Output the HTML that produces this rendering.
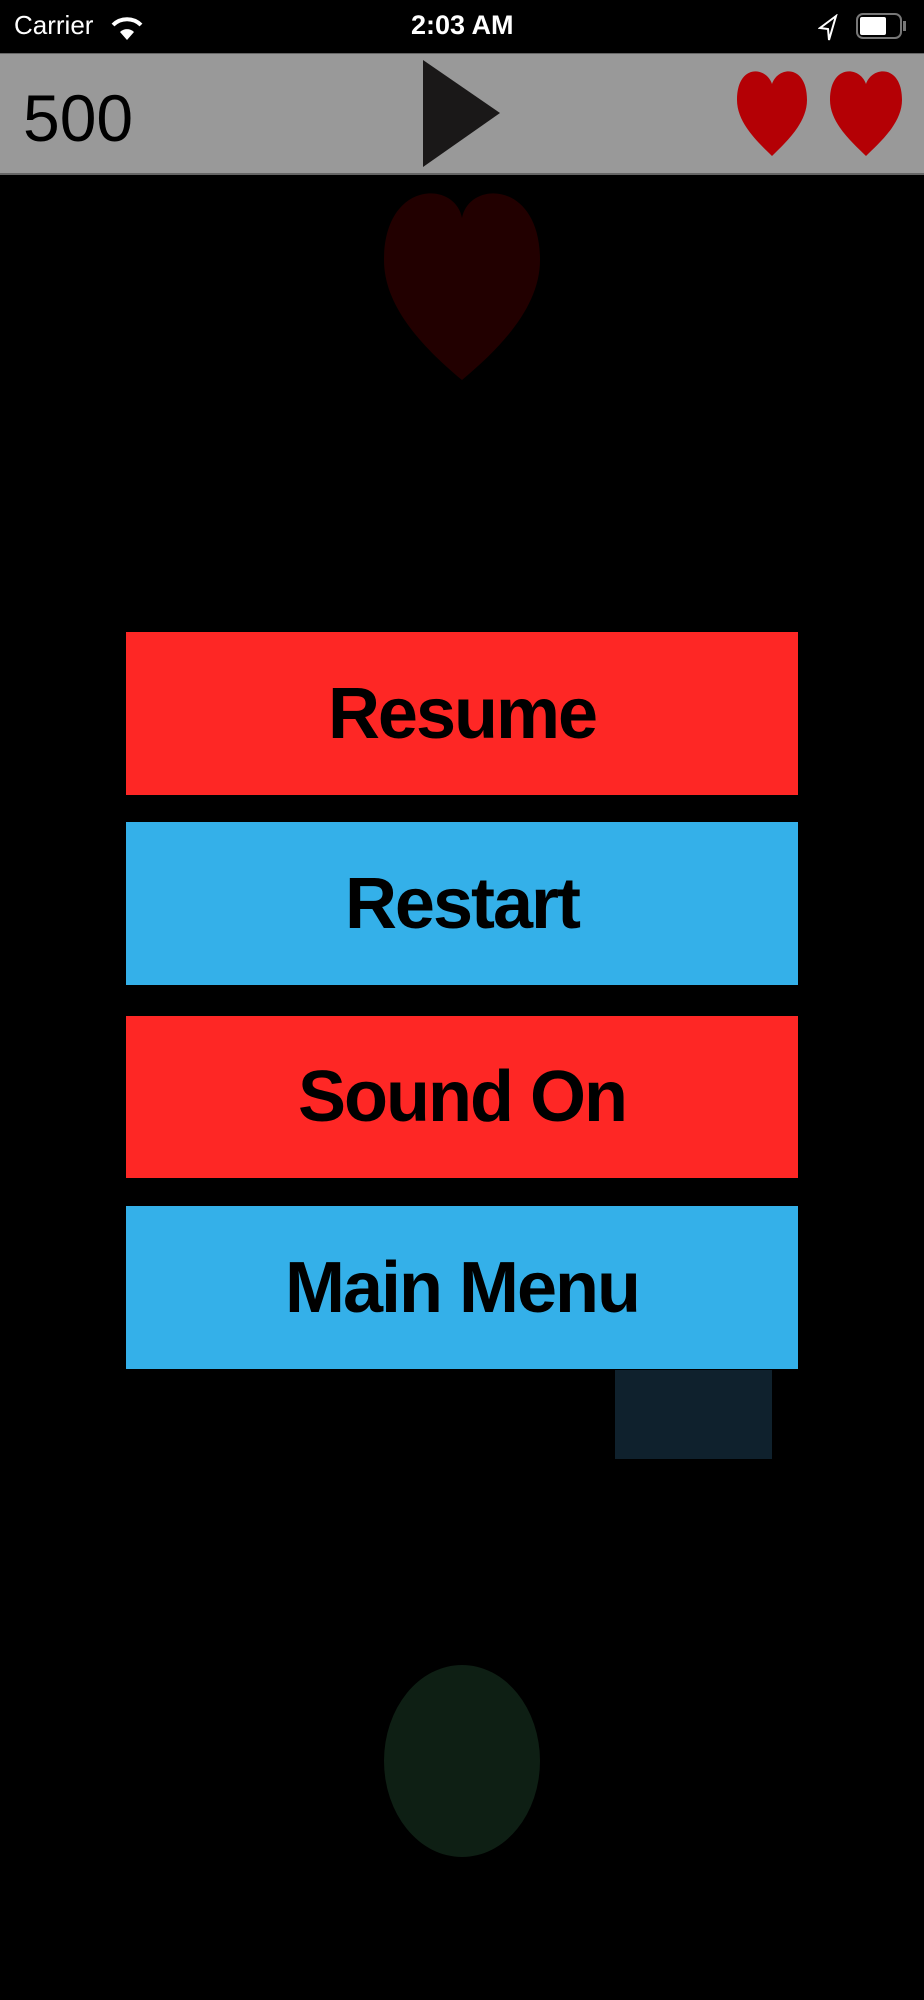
<!DOCTYPE html>
<html><head><meta charset="utf-8"><style>
html,body{margin:0;padding:0;background:#000;width:924px;height:2000px;overflow:hidden;position:relative;font-family:"Liberation Sans",sans-serif}
.a{position:absolute}
.btn{position:absolute;left:126px;width:672px;display:flex;align-items:center;justify-content:center;font-weight:bold;font-size:72px;letter-spacing:-2px;color:#000}
.r{background:#fe2725}.b{background:#34b0e9}
</style></head><body>
<div class="a" style="left:14px;top:10px;color:#fff;font-size:26px">Carrier</div>
<svg class="a" style="left:110px;top:14px" width="34" height="28" viewBox="0 0 34 28"><path d="M17 26 L10 18 A10 10 0 0 1 24 18 Z" fill="#fff"/><path d="M3 11 A20 20 0 0 1 31 11" stroke="#fff" stroke-width="4" fill="none"/></svg>
<div class="a" style="left:411px;top:10px;color:#fff;font-size:27px;font-weight:bold">2:03 AM</div>
<svg class="a" style="left:818px;top:14px" width="20" height="28"><path d="M18 2 L2 14 L10 15 L11 26 Z" fill="none" stroke="#fff" stroke-width="2"/></svg>
<div class="a" style="left:856px;top:13px;width:46px;height:26px;border:2px solid #777;border-radius:7px;box-sizing:border-box"></div>
<div class="a" style="left:860px;top:17px;width:26px;height:18px;background:#fff;border-radius:2px"></div>
<div class="a" style="left:903px;top:21px;width:3px;height:10px;background:#777"></div>
<div class="a" style="left:0;top:53px;width:924px;height:122px;background:#999;border-top:1px solid #666;border-bottom:2px solid #666;box-sizing:border-box"></div>
<div class="a" style="left:23px;top:80px;font-size:66px;color:#000">500</div>
<svg class="a" style="left:0;top:0" width="924" height="2000">
<polygon points="423,60 500,113 423,167" fill="#1a1818"/>
<path d="M772 84 C766 66 737 64 737 100 C737 124 760 144 772 156 C784 144 807 124 807 100 C807 64 778 66 772 84Z" fill="#b40005"/>
<path d="M866 84 C860 66 830 64 830 100 C830 124 854 144 866 156 C878 144 902 124 902 100 C902 64 872 66 866 84Z" fill="#b40005"/>
<path d="M462 218 C455 180 384 180 384 260 C384 305 420 345 462 380 C504 345 540 305 540 260 C540 180 469 180 462 218Z" fill="#220000"/>
<rect x="615" y="1370" width="157" height="89" fill="#0f212d"/>
<ellipse cx="462" cy="1761" rx="78" ry="96" fill="#0e1f14"/>
</svg>
<div class="btn r" style="top:632px;height:163px">Resume</div>
<div class="btn b" style="top:822px;height:163px">Restart</div>
<div class="btn r" style="top:1016px;height:162px">Sound On</div>
<div class="btn b" style="top:1206px;height:163px">Main Menu</div>
</body></html>
